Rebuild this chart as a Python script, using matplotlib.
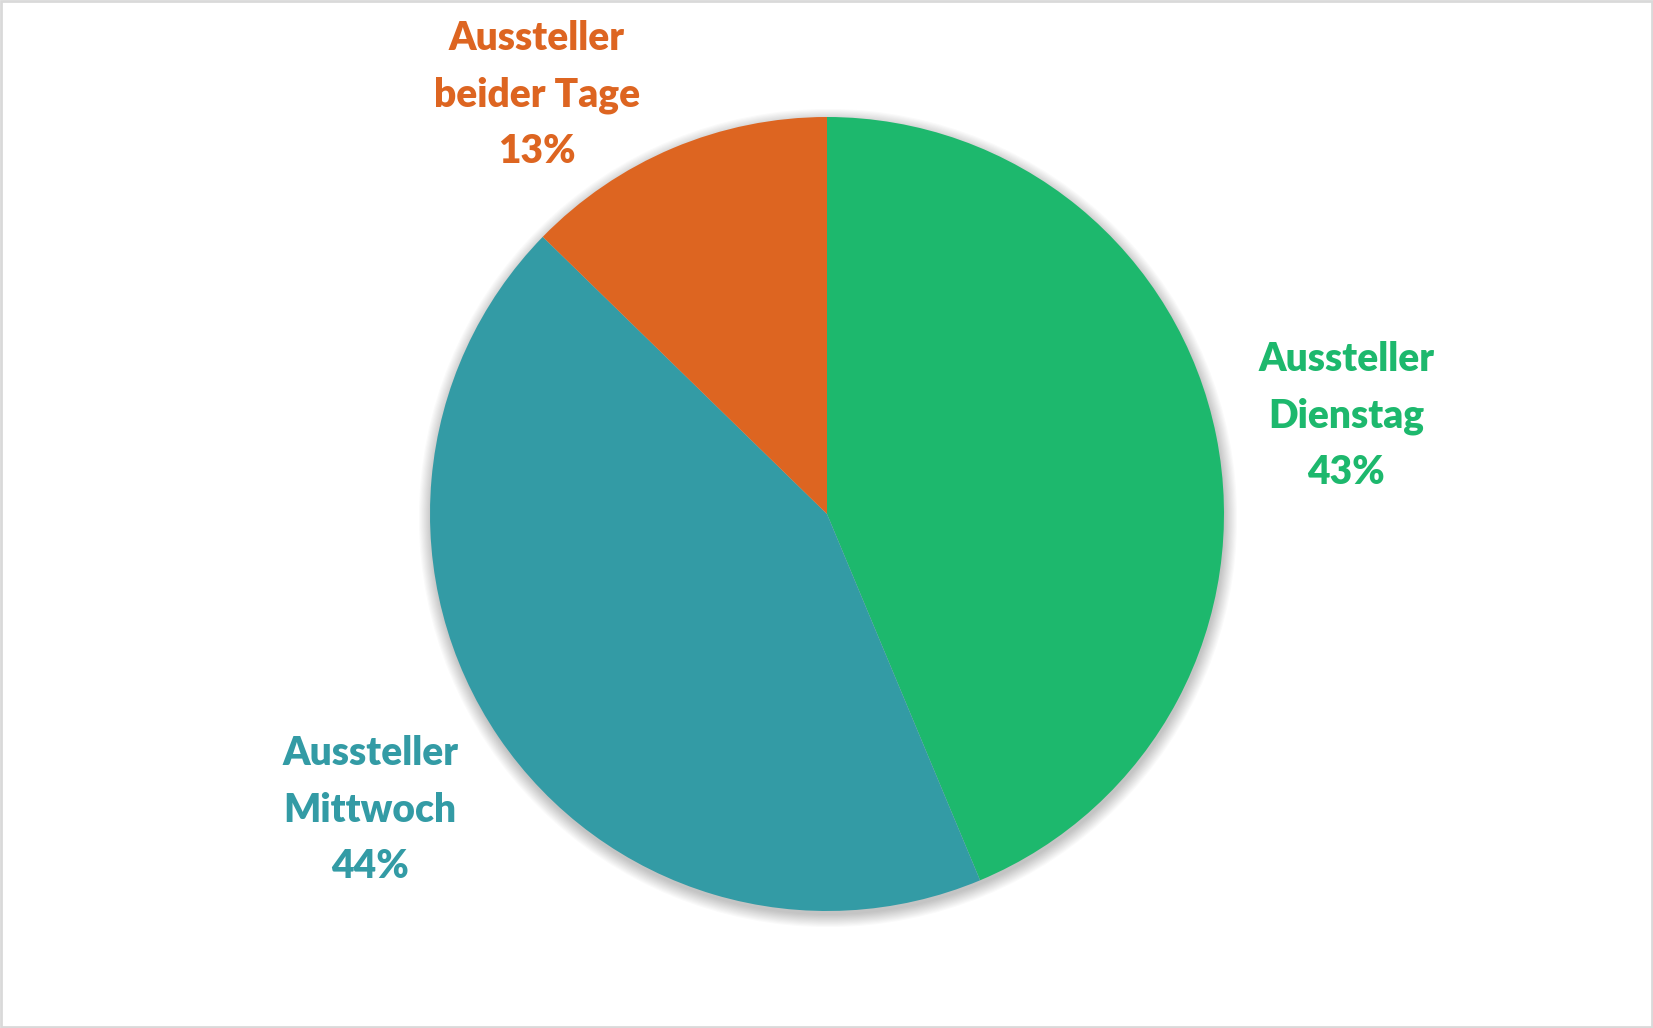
import matplotlib.pyplot as plt
from matplotlib.patches import Circle, Rectangle

# data
labels = ["Aussteller\nDienstag", "Aussteller\nMittwoch", "Aussteller\nbeider Tage"]
shares = [43.7, 43.6, 12.7]          # wedge sizes
pct_text = ["43%", "44%", "13%"]     # labels as printed in the chart
colors = ["#1DB86D", "#339BA5", "#DD6521"]

W, H = 1653, 1028
fig = plt.figure(figsize=(W / 100, H / 100), dpi=100)
ax = fig.add_axes([0, 0, 1, 1])

cx, cy, r = 827, H - 514, 397

# soft shadow round the pie
for i in range(12):
    ax.add_patch(Circle((cx + 1, cy - 4), r + i * 1.1, color="black",
                        alpha=0.02, lw=0, zorder=0))

ax.pie(shares, colors=colors, startangle=90, counterclock=False,
       center=(cx, cy), radius=r, frame=True,
       wedgeprops=dict(linewidth=0))
ax.set_xlim(0, W)
ax.set_ylim(0, H)
ax.set_aspect("equal")
ax.axis("off")

# label positions (pixel coords, Excel "best fit")
label_pos = [(1346, H - 416), (370, H - 810), (537, H - 95)]
for lab, pct, col, (x, y) in zip(labels, pct_text, colors, label_pos):
    ax.text(x, y, f"{lab}\n{pct}", color=col, ha="center", va="center",
            fontsize=28, fontweight="heavy", family="Lato", linespacing=1.65)

# frame
ax.add_patch(Rectangle((1, 1), W - 2, H - 2, fill=False, edgecolor="#D9D9D9",
                       lw=2, zorder=5))

fig.savefig("out.png", dpi=100)
